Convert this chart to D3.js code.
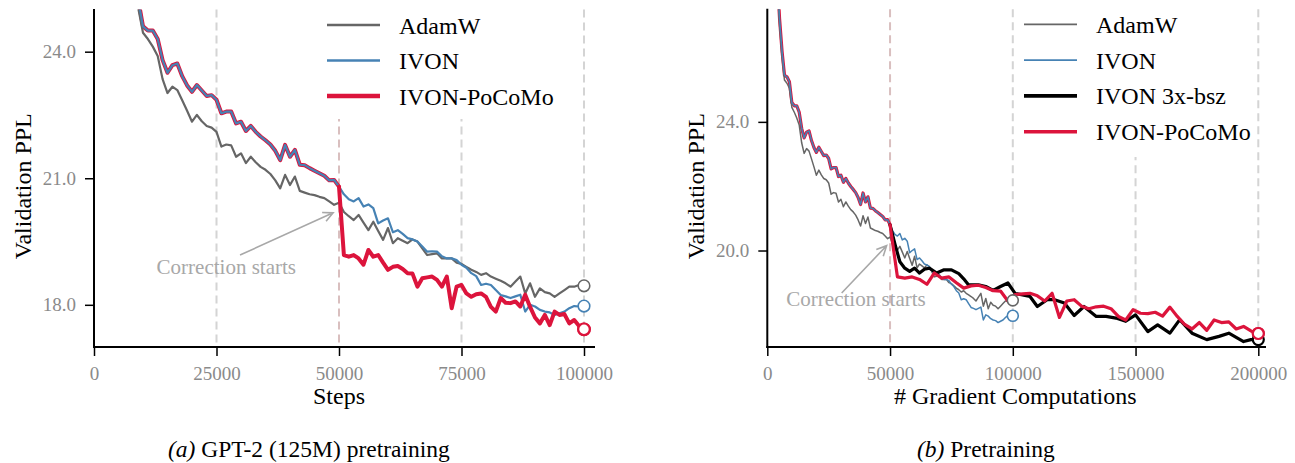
<!DOCTYPE html>
<html>
<head>
<meta charset="utf-8">
<script src="https://cdn.jsdelivr.net/npm/d3@7"></script>
<style>
  body { margin: 0; background: #fff; }
  svg { font-family: "Liberation Serif", "DejaVu Serif", serif; }
</style>
</head>
<body>
<svg id="chart" width="1295" height="463"></svg>
<script>
// --- DATA ---
// validation perplexity, evaluated every 1000 steps (2000 .. 100000)
const evalSteps = [
     2000,  3000,  4000,  5000,  6000,  7000,  8000,  9000, 10000, 11000,
    12000, 13000, 14000, 15000, 16000, 17000, 18000, 19000, 20000, 21000,
    22000, 23000, 24000, 25000, 26000, 27000, 28000, 29000, 30000, 31000,
    32000, 33000, 34000, 35000, 36000, 37000, 38000, 39000, 40000, 41000,
    42000, 43000, 44000, 45000, 46000, 47000, 48000, 49000, 50000, 51000,
    52000, 53000, 54000, 55000, 56000, 57000, 58000, 59000, 60000, 61000,
    62000, 63000, 64000, 65000, 66000, 67000, 68000, 69000, 70000, 71000,
    72000, 73000, 74000, 75000, 76000, 77000, 78000, 79000, 80000, 81000,
    82000, 83000, 84000, 85000, 86000, 87000, 88000, 89000, 90000, 91000,
    92000, 93000, 94000, 95000, 96000, 97000, 98000, 99000, 100000
];
const adamwPPL = [
    35.0, 30.6, 28.3, 27.0, 26.0, 25.3, 25.2, 25.05, 24.45, 24.3,
    24.12, 23.9, 23.35, 23.02, 23.17, 23.09, 22.85, 22.6, 22.34, 22.5,
    22.35, 22.24, 22.2, 22.1, 21.75, 21.8, 21.78, 21.51, 21.59, 21.36,
    21.51, 21.38, 21.27, 21.2, 21.1, 20.95, 20.76, 21.08, 20.84, 21.04,
    20.7, 20.66, 20.62, 20.6, 20.56, 20.53, 20.45, 20.37, 20.42, 20.2,
    20.1, 20.01, 20.13, 19.95, 19.77, 19.97, 19.75, 19.54, 19.82, 19.46,
    19.58, 19.52, 19.46, 19.55, 19.5, 19.34, 19.18, 19.2, 19.22, 19.1,
    19.1, 19.1, 19.0, 18.97, 18.9, 18.83, 18.78, 18.71, 18.75, 18.67,
    18.62, 18.57, 18.51, 18.43, 18.55, 18.67, 18.27, 18.51, 18.19, 18.39,
    18.3, 18.27, 18.19, 18.27, 18.35, 18.43, 18.43, 18.47, 18.45
];
const ivonPPL = [
    35.5, 31.0, 28.6, 27.2, 26.2, 25.45, 25.4, 25.25, 24.6, 24.5,
    24.5, 24.3, 23.8, 23.5, 23.68, 23.72, 23.42, 23.2, 23.05, 23.21,
    23.08, 22.95, 22.97, 22.86, 22.54, 22.58, 22.58, 22.3, 22.34, 22.12,
    22.24, 22.1, 21.99, 21.9, 21.8, 21.65, 21.43, 21.79, 21.51, 21.67,
    21.32, 21.31, 21.24, 21.18, 21.12, 21.06, 20.95, 20.96, 20.8, 20.62,
    20.5, 20.45, 20.53, 20.33, 20.38, 20.29, 19.93, 20.0, 20.05, 19.72,
    19.77, 19.68, 19.58, 19.55, 19.5, 19.38, 19.26, 19.27, 19.26, 19.15,
    19.1, 19.1, 19.06, 18.95, 18.88, 18.75, 18.68, 18.47, 18.5, 18.47,
    18.35, 18.23, 18.2, 18.16, 18.2, 18.24, 17.84, 18.0, 17.96, 17.88,
    17.84, 17.82, 17.76, 17.8, 17.84, 17.92, 17.97, 17.96, 17.97
];
// IVON-PoCoMo follows IVON until the correction starts, then these values (50000 .. 100000)
const correctionStart = 50000;
const pocomoAfterPPL = [
    20.8,
    19.18, 19.14, 19.18, 19.1, 18.95, 19.3, 19.14, 19.18, 19.0, 18.83,
    18.9, 18.92, 18.85, 18.75, 18.74, 18.43, 18.63, 18.65, 18.67, 18.59,
    18.43, 18.67, 17.92, 18.43, 18.47, 18.27, 18.19, 18.25, 18.27, 18.19,
    17.95, 17.84, 18.16, 18.05, 18.04, 18.08, 17.96, 18.24, 17.95, 17.7,
    17.56, 17.76, 17.52, 17.84, 17.76, 17.78, 17.56, 17.64, 17.5, 17.42
];
// IVON 3x-bsz, x in gradient computations
const bsz3xComps = [
    50000, 52000, 54000, 56000, 58000, 60000, 62000, 64000, 66000, 69000,
    72000, 75000, 78000, 80000, 82000, 86000, 89000, 92000, 95000, 98000,
    101000, 104000, 107000, 110000, 114000, 117000, 121000, 125000, 129000, 134000,
    138000, 142000, 146000, 150000, 155000, 159000, 164000, 168000, 173000, 179000,
    184000, 188000, 194000, 197000, 200000
];
const bsz3xPPL = [
    20.8, 20.2, 19.65, 19.45, 19.35, 19.45, 19.3, 19.42, 19.45, 19.3,
    19.4, 19.4, 19.28, 19.12, 18.93, 18.93, 18.88, 18.76, 18.88, 18.99,
    18.66, 18.62, 18.57, 18.26, 18.47, 18.47, 18.37, 17.98, 18.26, 17.95,
    17.95, 17.9, 17.8, 18.0, 17.48, 17.69, 17.43, 17.85, 17.43, 17.23,
    17.33, 17.43, 17.17, 17.23, 17.23
];

const leftXTicks = [0, 25000, 50000, 75000, 100000];
const leftYTicks = [18, 21, 24];
const rightXTicks = [0, 50000, 100000, 150000, 200000];
const rightYTicks = [20, 24];

const COLORS = {
    "AdamW": "#666666",
    "IVON": "#4682b4",
    "IVON 3x-bsz": "#000000",
    "IVON-PoCoMo": "#dc143c",
};

// PoCoMo uses 3 gradient computations per step once the correction is on
const gradComps = s => s <= correctionStart ? s : correctionStart + 3 * (s - correctionStart);

const zip = (xs, ys) => xs.map((v, i) => [v, ys[i]]);
const adamw = zip(evalSteps, adamwPPL);
const ivon = zip(evalSteps, ivonPPL);
const pocomo = ivon.filter(d => d[0] < correctionStart)
    .concat(zip(evalSteps.filter(s => s >= correctionStart), pocomoAfterPPL));
const bsz3x = zip(bsz3xComps, bsz3xPPL);

const svg = d3.select("#chart");
const TICK_GRAY = "#8a8a8a";

function drawPanel(p) {
    const x = d3.scaleLinear().domain([0, p.xMax]).range([p.left, p.right]);
    const y = d3.scaleLinear().domain(p.yDomain).range([p.bottom, p.top]);
    const g = svg.append("g");

    svg.append("clipPath").attr("id", "clip-" + p.id)
        .append("rect")
        .attr("x", p.left).attr("y", p.top)
        .attr("width", p.spineEnd - p.left).attr("height", p.bottom - p.top);

    // dashed reference lines
    g.append("g").selectAll("line").data(p.xTicks.filter(d => d > 0)).join("line")
        .attr("x1", d => x(d)).attr("x2", d => x(d))
        .attr("y1", p.top).attr("y2", p.bottom)
        .attr("stroke", d => d === correctionStart ? "#d9bfbf" : "#d4d4d4")
        .attr("stroke-width", 2)
        .attr("stroke-dasharray", "8,5");

    const line = d3.line().x(d => x(d[0])).y(d => y(d[1]));
    const plot = g.append("g").attr("clip-path", `url(#clip-${p.id})`)
        .attr("fill", "none").attr("stroke-linejoin", "round").attr("stroke-linecap", "round");

    // draw order: PoCoMo before correction (under IVON), AdamW, IVON, 3x-bsz, PoCoMo after correction
    p.series.forEach(s => {
        s.segments.forEach(seg => {
            plot.append("path")
                .attr("d", line(seg))
                .attr("stroke", COLORS[s.name])
                .attr("stroke-width", s.width);
        });
    });

    // end markers
    g.append("g").selectAll("circle").data(p.series).join("circle")
        .attr("cx", s => x(s.end[0]))
        .attr("cy", s => y(s.end[1]))
        .attr("r", p.markerR)
        .attr("fill", "white")
        .attr("stroke", s => COLORS[s.name])
        .attr("stroke-width", s => s.width > 3 ? 2.2 : 1.6);

    // spines
    g.append("line").attr("x1", p.left).attr("x2", p.left)
        .attr("y1", p.top - 0.5).attr("y2", p.bottom + 1)
        .attr("stroke", "black").attr("stroke-width", 2);
    g.append("line").attr("x1", p.left - 1).attr("x2", p.spineEnd)
        .attr("y1", p.bottom).attr("y2", p.bottom)
        .attr("stroke", "black").attr("stroke-width", 2);

    // axes
    const xAxis = g.append("g")
        .attr("transform", `translate(0,${p.bottom})`)
        .call(d3.axisBottom(x).tickValues(p.xTicks).tickFormat(d3.format("d"))
            .tickSize(9).tickPadding(11));
    const yAxis = g.append("g")
        .attr("transform", `translate(${p.left},0)`)
        .call(d3.axisLeft(y).tickValues(p.yTicks).tickFormat(d3.format(".1f"))
            .tickSize(9).tickPadding(9));
    [xAxis, yAxis].forEach(a => {
        a.select(".domain").remove();
        a.selectAll(".tick line").attr("stroke", "black").attr("stroke-width", 1.5);
        a.selectAll(".tick text")
            .attr("fill", TICK_GRAY)
            .style("font-family", "'Liberation Serif', serif")
            .style("font-size", "19px");
    });

    // axis titles
    g.append("text")
        .attr("transform", `translate(${p.yLabelX},${(p.top + p.bottom) / 2 + 8}) rotate(-90)`)
        .attr("text-anchor", "middle")
        .style("font-size", "24px")
        .text("Validation PPL");
    g.append("text")
        .attr("x", x(p.xLabelAt)).attr("y", 404)
        .attr("text-anchor", "middle")
        .style("font-size", "24px")
        .text(p.xLabel);

    // annotation
    const a = p.annot;
    const tip = [x(a.tip[0]), y(a.tip[1])], tail = [x(a.tail[0]), y(a.tail[1])];
    const ang = Math.atan2(tip[1] - tail[1], tip[0] - tail[0]);
    const head = [-0.45, 0.45].map(o => [tip[0] - 11 * Math.cos(ang + o), tip[1] - 11 * Math.sin(ang + o)]);
    g.append("path")
        .attr("d", `M${tail}L${tip}M${head[0]}L${tip}L${head[1]}`)
        .attr("fill", "none").attr("stroke", "#a8a8a8").attr("stroke-width", 1.6);
    g.append("text")
        .attr("x", x(a.text[0])).attr("y", y(a.text[1]))
        .attr("text-anchor", "middle")
        .attr("fill", "#a8a8a8")
        .style("font-size", "21px")
        .text("Correction starts");

    // legend with white box
    const lg = g.append("g");
    lg.append("rect")
        .attr("x", p.legend.box[0]).attr("y", 0)
        .attr("width", p.legend.box[1] - p.legend.box[0]).attr("height", p.legend.box[2])
        .attr("fill", "white");
    const items = lg.selectAll("g").data(p.legend.items).join("g")
        .attr("transform", (d, i) => `translate(${p.legend.x},${p.legend.y + i * p.legend.gap})`);
    items.append("line")
        .attr("x1", 0).attr("x2", 53)
        .attr("stroke", d => COLORS[d.name])
        .attr("stroke-width", d => d.width);
    items.append("text")
        .attr("x", 72).attr("y", 8.5)
        .style("font-size", "24px")
        .text(d => d.name);
}

const preCorr = pocomo.filter(d => d[0] <= correctionStart);
const postCorr = pocomo.filter(d => d[0] >= correctionStart);

// --- (a) GPT-2 (125M) pretraining, x = steps ---
drawPanel({
    id: "a",
    left: 94, right: 584, spineEnd: 595, top: 9.5, bottom: 347,
    xMax: 100000, yDomain: [17, 25],
    xTicks: leftXTicks, yTicks: leftYTicks,
    yLabelX: 31, xLabel: "Steps", xLabelAt: 50000,
    markerR: 5.8,
    series: [
        { name: "IVON-PoCoMo", width: 4, segments: [preCorr], end: pocomo.at(-1) },
        { name: "AdamW", width: 2.2, segments: [adamw], end: adamw.at(-1) },
        { name: "IVON", width: 2.2, segments: [ivon], end: ivon.at(-1) },
        { name: "IVON-PoCoMo", width: 4, segments: [postCorr], end: pocomo.at(-1) },
    ],
    annot: { tip: [48800, 20.18], tail: [29800, 19.18], text: [27000, 18.73] },
    legend: {
        box: [318, 575, 119], x: 327, y: 25, gap: 35.5,
        items: [
            { name: "AdamW", width: 2.5 },
            { name: "IVON", width: 2.5 },
            { name: "IVON-PoCoMo", width: 4.5 },
        ]
    }
});

// --- (b) Pretraining, x = gradient computations ---
const pocomoComps = pocomo.map(d => [gradComps(d[0]), d[1]]);
drawPanel({
    id: "b",
    left: 767.3, right: 1258.3, spineEnd: 1266, top: 9.3, bottom: 347,
    xMax: 200000, yDomain: [17, 27.5],
    xTicks: rightXTicks, yTicks: rightYTicks,
    yLabelX: 704, xLabel: "# Gradient Computations", xLabelAt: 101000,
    markerR: 5.5,
    series: [
        { name: "IVON-PoCoMo", width: 3.2, segments: [pocomoComps.filter(d => d[0] <= correctionStart)], end: pocomoComps.at(-1) },
        { name: "AdamW", width: 1.5, segments: [adamw], end: adamw.at(-1) },
        { name: "IVON", width: 1.5, segments: [ivon], end: ivon.at(-1) },
        { name: "IVON 3x-bsz", width: 3.2, segments: [bsz3x], end: bsz3x.at(-1) },
        { name: "IVON-PoCoMo", width: 3.2, segments: [pocomoComps.filter(d => d[0] >= correctionStart)], end: pocomoComps.at(-1) },
    ],
    annot: { tip: [48600, 20.15], tail: [30300, 18.68], text: [36150, 18.28] },
    legend: {
        box: [1015, 1254, 157], x: 1024, y: 24.3, gap: 35.8,
        items: [
            { name: "AdamW", width: 1.8 },
            { name: "IVON", width: 1.8 },
            { name: "IVON 3x-bsz", width: 3.6 },
            { name: "IVON-PoCoMo", width: 3.6 },
        ]
    }
});

// --- captions ---
const captions = [
    { tag: "(a)", text: " GPT-2 (125M) pretraining", x: 168 },
    { tag: "(b)", text: " Pretraining", x: 917 },
];
const cap = svg.append("g").selectAll("text").data(captions).join("text")
    .attr("x", d => d.x).attr("y", 457)
    .style("font-size", "23.5px");
cap.append("tspan").style("font-style", "italic").text(d => d.tag);
cap.append("tspan").text(d => d.text);
</script>
</body>
</html>
